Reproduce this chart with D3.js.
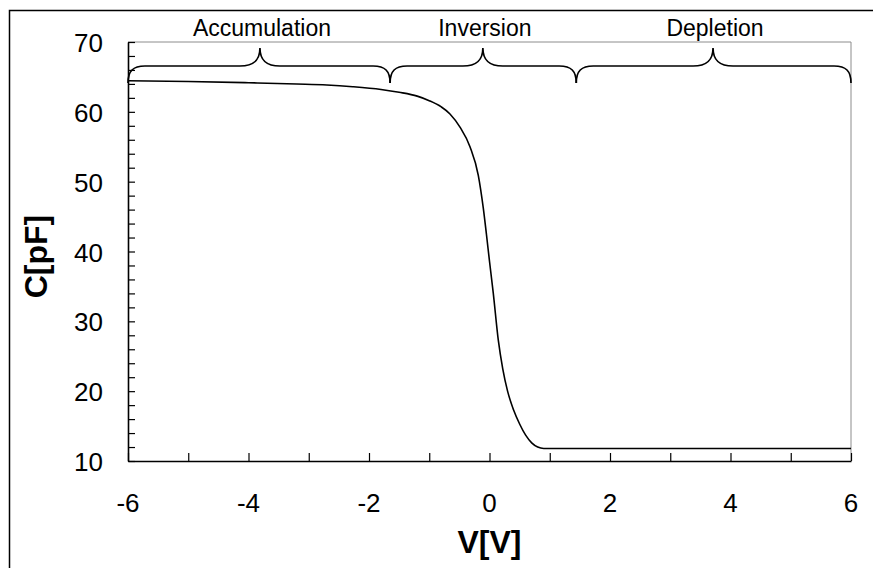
<!DOCTYPE html>
<html>
<head>
<meta charset="utf-8">
<script src="https://cdn.jsdelivr.net/npm/d3@7"></script>
<style>
  html, body { margin: 0; padding: 0; background: #fff; }
  svg { display: block; font-family: "Liberation Sans", Arial, sans-serif; }
</style>
</head>
<body>
<svg id="chart" width="873" height="568"></svg>
<script>
// Data
const voltage = [-6, -5, -4, -3.2, -2.7, -2.27, -1.8, -1.5, -1.2, -1.0, -0.8, -0.656, -0.49, -0.324, -0.186, -0.103, -0.05, 0, 0.063, 0.146, 0.22, 0.3, 0.4, 0.5, 0.6, 0.7, 0.8, 0.9, 1.5, 3, 4.5, 6];
const capacitance = [64.46, 64.35, 64.17, 63.99, 63.85, 63.6, 63.2, 62.8, 62.25, 61.6, 60.7, 59.7, 57.8, 55.0, 50.9, 46.2, 42.4, 38.6, 34.0, 27.3, 23.2, 20.0, 17.3, 15.3, 13.7, 12.6, 12.0, 11.8, 11.8, 11.8, 11.78, 11.78];

const xTickLabels = [-6, -4, -2, 0, 2, 4, 6];
const yTickLabels = [10, 20, 30, 40, 50, 60, 70];

// Region braces (in volts)
const regionNames = ["Accumulation", "Inversion", "Depletion"];
const regionStart = [-6, -1.65, 1.44];
const regionEnd = [-1.65, 1.44, 6];
const regionTip = [-3.81, -0.11, 3.71];

(function () {
const svg = d3.select("#chart");
const pL = 128, pR = 851, pT = 42, pB = 461;

const x = d3.scaleLinear().domain([-6, 6]).range([pL, pR]);
const y = d3.scaleLinear().domain([10, 70]).range([pB, pT]);

// outer border
svg.append("rect")
  .attr("x", 9.5).attr("y", 10.5)
  .attr("width", 880).attr("height", 580)
  .attr("fill", "none").attr("stroke", "#000").attr("stroke-width", 1.5);

// plot frame (top/right grey)
svg.append("path")
  .attr("d", `M${pL},${pT}H${pR}V${pB}`)
  .attr("fill", "none").attr("stroke", "#8c8c8c").attr("stroke-width", 1);

// x axis (ticks inside, pointing up)
const xAxis = d3.axisBottom(x)
  .tickValues(d3.range(-6, 6.001, 1))
  .tickSize(-8).tickSizeOuter(0).tickFormat("");
const gx = svg.append("g").attr("transform", `translate(0,${pB})`).call(xAxis);
gx.select(".domain").attr("stroke", "#000").attr("stroke-width", 1.6);
gx.selectAll(".tick line").attr("stroke", "#000").attr("stroke-width", 1.2);

// y axis (ticks inside, pointing right)
const yAxis = d3.axisLeft(y)
  .tickValues(d3.range(10, 70.001, 2))
  .tickSize(-7).tickSizeOuter(0).tickFormat("");
const gy = svg.append("g").attr("transform", `translate(${pL},0)`).call(yAxis);
gy.select(".domain").attr("stroke", "#000").attr("stroke-width", 1.6);
gy.selectAll(".tick line").attr("stroke", "#000").attr("stroke-width", 1.2);

// tick labels
svg.append("g").selectAll("text").data(xTickLabels).join("text")
  .attr("x", d => x(d)).attr("y", 512)
  .attr("text-anchor", "middle")
  .attr("font-size", 26).attr("fill", "#000")
  .text(d => d);

svg.append("g").selectAll("text").data(yTickLabels).join("text")
  .attr("x", 103).attr("y", d => y(d) + 10)
  .attr("text-anchor", "end")
  .attr("font-size", 26).attr("fill", "#000")
  .text(d => d);

// axis titles
svg.append("text")
  .attr("x", (pL + pR) / 2).attr("y", 553)
  .attr("text-anchor", "middle")
  .attr("font-size", 32).attr("font-weight", "bold")
  .text("V[V]");

svg.append("text")
  .attr("transform", `translate(47,${(pT + pB) / 2 + 5}) rotate(-90)`)
  .attr("text-anchor", "middle")
  .attr("font-size", 32).attr("font-weight", "bold")
  .text("C[pF]");

// curve
const pts = voltage.map((v, i) => [v, capacitance[i]]);
svg.append("path")
  .datum(pts)
  .attr("d", d3.line().x(d => x(d[0])).y(d => y(d[1])).curve(d3.curveMonotoneX))
  .attr("fill", "none").attr("stroke", "#000").attr("stroke-width", 1.6);

// braces
const yEnd = 83, yMid = 66, yTip = 48;
function bracePath(x0, x1, xt) {
  return `M${x0},${yEnd} C${x0},${yMid + 5} ${x0 + 5},${yMid} ${x0 + 17},${yMid}` +
    ` L${xt - 20},${yMid} C${xt - 7},${yMid} ${xt},${yMid - 5} ${xt},${yTip}` +
    ` C${xt},${yMid - 5} ${xt + 7},${yMid} ${xt + 20},${yMid}` +
    ` L${x1 - 17},${yMid} C${x1 - 5},${yMid} ${x1},${yMid + 5} ${x1},${yEnd}`;
}
const braces = svg.append("g");
regionNames.forEach((name, i) => {
  braces.append("path")
    .attr("d", bracePath(x(regionStart[i]), x(regionEnd[i]), x(regionTip[i])))
    .attr("fill", "none").attr("stroke", "#000").attr("stroke-width", 1.7);
  braces.append("text")
    .attr("x", x(regionTip[i]) + 2).attr("y", 36)
    .attr("text-anchor", "middle")
    .attr("font-size", 23).attr("fill", "#000")
    .text(name);
});
})();
</script>
</body>
</html>
